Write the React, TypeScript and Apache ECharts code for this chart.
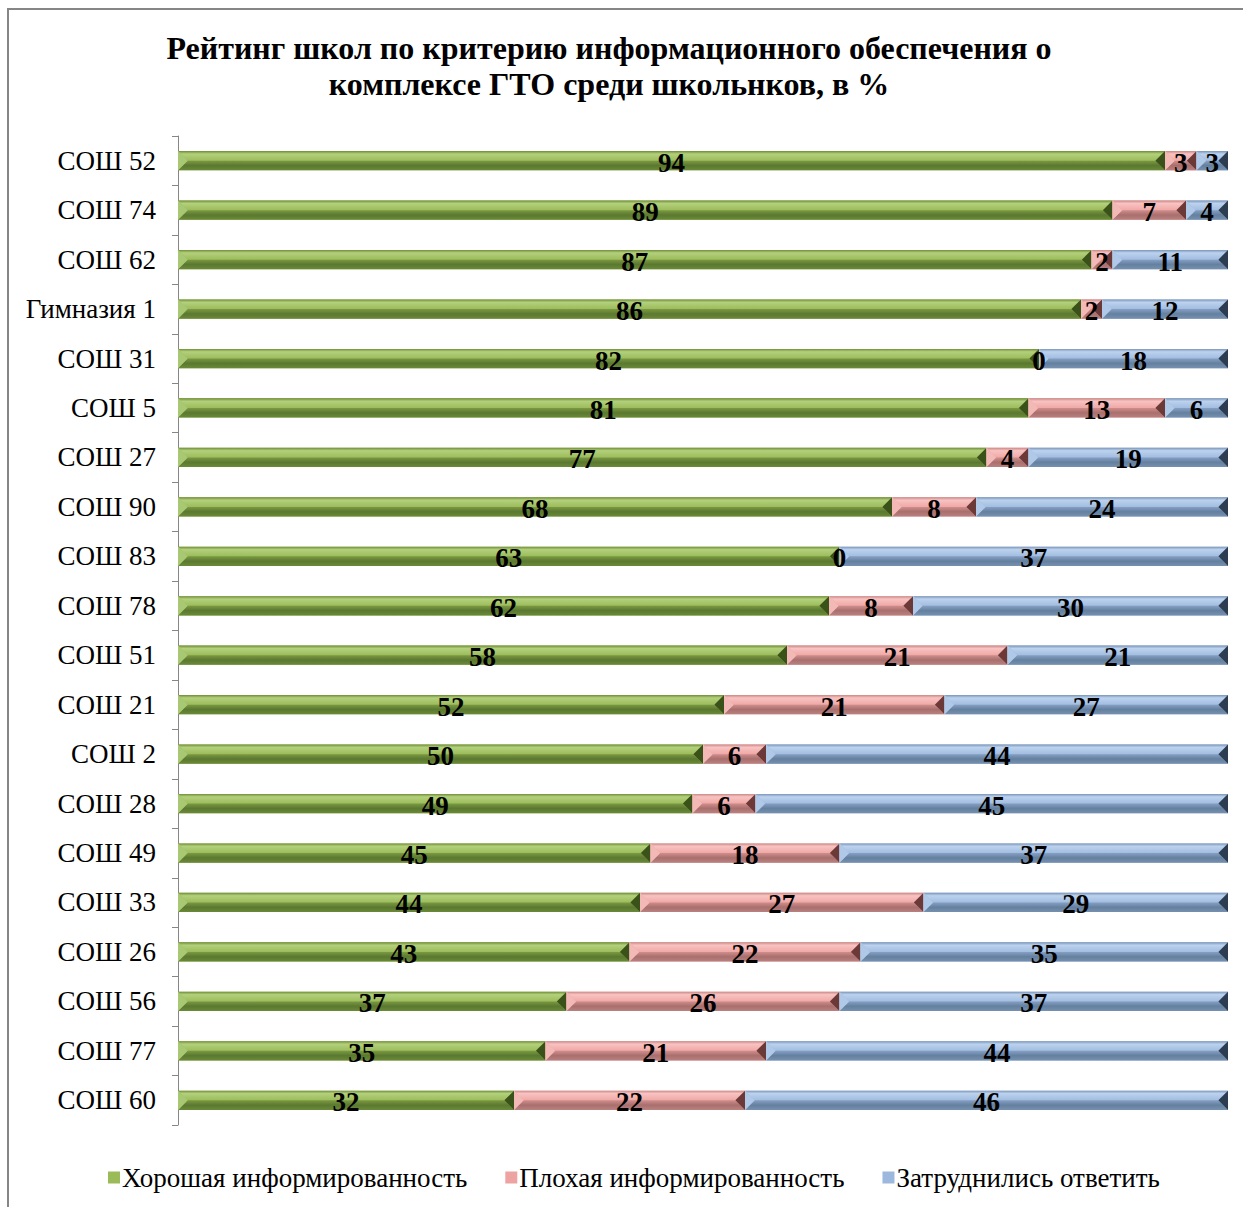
import React, { useEffect, useRef } from "react";
import * as echarts from "echarts";

const categories = [
  "СОШ 52", "СОШ 74", "СОШ 62", "Гимназия 1", "СОШ 31", "СОШ 5", "СОШ 27",
  "СОШ 90", "СОШ 83", "СОШ 78", "СОШ 51", "СОШ 21", "СОШ 2", "СОШ 28",
  "СОШ 49", "СОШ 33", "СОШ 26", "СОШ 56", "СОШ 77", "СОШ 60",
];
const goodValues = [94, 89, 87, 86, 82, 81, 77, 68, 63, 62, 58, 52, 50, 49, 45, 44, 43, 37, 35, 32];
const badValues = [3, 7, 2, 2, 0, 13, 4, 8, 0, 8, 21, 21, 6, 6, 18, 27, 22, 26, 21, 22];
const hardValues = [3, 4, 11, 12, 18, 6, 19, 24, 37, 30, 21, 27, 44, 45, 37, 29, 35, 37, 44, 46];
const seriesNames = ["Хорошая информированность", "Плохая информированность", "Затруднились ответить"];
const titleText = "Рейтинг школ по критерию информационного обеспечения о\nкомплексе ГТО среди школьнков, в %";

const FONT = '"Liberation Serif", "Times New Roman", serif';

const palettes = [
  { base: "#9bbb59", top: ["#6f8c37", "#b3d07c", "#9cbc5b"], bottom: ["#7b9a42", "#5b7830", "#6a8a38"], left: "#a9c873", right: "#3a5119" },
  { base: "#eda3a1", top: ["#c98886", "#f8c3c1", "#efa8a6"], bottom: ["#d08e8c", "#a86f6d", "#b98180"], left: "#f3b9b7", right: "#6a3938" },
  { base: "#9cb8dc", top: ["#7b95b8", "#bcd2ee", "#a2bde0"], bottom: ["#86a0c4", "#64809f", "#7790b0"], left: "#b1c9e8", right: "#2c3d52" },
];

function buildData(si: number) {
  const all = [goodValues, badValues, hardValues];
  return categories.map((_, i) => {
    let start = 0;
    for (let k = 0; k < si; k++) start += all[k][i];
    const v = all[si][i];
    return [start, start + v, i, v];
  });
}

function makeRender(si: number) {
  const pal = palettes[si];
  return (params: any, api: any) => {
    const start = api.value(0);
    const end = api.value(1);
    const idx = api.value(2);
    const val = api.value(3);
    const p0 = api.coord([start, idx]);
    const p1 = api.coord([end, idx]);
    const band = api.size([0, 1])[1];
    const h = band * 0.39;
    const x0 = p0[0];
    const x1 = p1[0];
    const yc = p0[1];
    const y0 = yc - h / 2;
    const y1 = yc + h / 2;
    const w = x1 - x0;
    const d = Math.min(h / 2, w / 2);
    const children: any[] = [];
    if (w > 0.5) {
      children.push({
        type: "rect",
        shape: { x: x0, y: y0, width: w, height: h },
        style: { fill: pal.base },
      });
      children.push({
        type: "polygon",
        shape: { points: [[x0, y0], [x1, y0], [x1 - d, yc], [x0 + d, yc]] },
        style: {
          fill: new echarts.graphic.LinearGradient(0, 0, 0, 1, [
            { offset: 0, color: pal.top[0] },
            { offset: 0.3, color: pal.top[1] },
            { offset: 1, color: pal.top[2] },
          ]),
        },
      });
      children.push({
        type: "polygon",
        shape: { points: [[x0 + d, yc], [x1 - d, yc], [x1, y1], [x0, y1]] },
        style: {
          fill: new echarts.graphic.LinearGradient(0, 0, 0, 1, [
            { offset: 0, color: pal.bottom[0] },
            { offset: 0.5, color: pal.bottom[1] },
            { offset: 1, color: pal.bottom[2] },
          ]),
        },
      });
      children.push({
        type: "polygon",
        shape: { points: [[x0, y0], [x0 + d, yc], [x0, y1]] },
        style: { fill: pal.left },
      });
      children.push({
        type: "polygon",
        shape: { points: [[x1, y0], [x1 - d, yc], [x1, y1]] },
        style: { fill: pal.right },
      });
    }
    children.push({
      type: "text",
      x: (x0 + x1) / 2,
      y: yc + 2,
      z2: 10,
      style: {
        text: String(val),
        font: `bold 27px ${FONT}`,
        fill: "#000",
        align: "center",
        verticalAlign: "middle",
      },
    });
    return { type: "group", children };
  };
}

export default function App() {
  const ref = useRef<HTMLDivElement>(null);
  useEffect(() => {
    if (!ref.current) return;
    const chart = echarts.init(ref.current, undefined, { renderer: "svg" });
    chart.setOption({
      animation: false,
      backgroundColor: "#ffffff",
      graphic: [
        {
          type: "rect",
          z: -10,
          shape: { x: 8, y: 9, width: 1300, height: 1300 },
          style: { fill: "none", stroke: "#868686", lineWidth: 2 },
        },
        {
          type: "text",
          x: 609,
          y: 30,
          style: {
            text: titleText,
            font: `bold 32px ${FONT}`,
            fill: "#000",
            align: "center",
            verticalAlign: "top",
            lineHeight: 36,
          },
        },
      ],
      legend: {
        data: seriesNames,
        left: 103,
        top: 1159,
        icon: "rect",
        itemWidth: 12,
        itemHeight: 12,
        itemGap: 38,
        textStyle: { fontFamily: FONT, fontSize: 27, color: "#000", padding: [0, 0, 0, -3] },
      },
      grid: { left: 178, right: 15, top: 136, bottom: 82, containLabel: false },
      xAxis: { type: "value", min: 0, max: 100, show: false },
      yAxis: {
        type: "category",
        data: categories,
        inverse: true,
        axisLine: { show: true, lineStyle: { color: "#868686", width: 1 } },
        axisTick: { show: true, length: 6, lineStyle: { color: "#868686" } },
        axisLabel: { fontFamily: FONT, fontSize: 27, color: "#000", margin: 22 },
      },
      series: seriesNames.map((name, si) => ({
        type: "custom",
        name,
        renderItem: makeRender(si),
        encode: { x: [0, 1], y: 2 },
        itemStyle: { color: palettes[si].base },
        data: buildData(si),
      })),
    });
    return () => chart.dispose();
  }, []);
  return <div ref={ref} style={{ position: "fixed", left: 0, top: 0, width: 1243, height: 1207 }} />;
}
